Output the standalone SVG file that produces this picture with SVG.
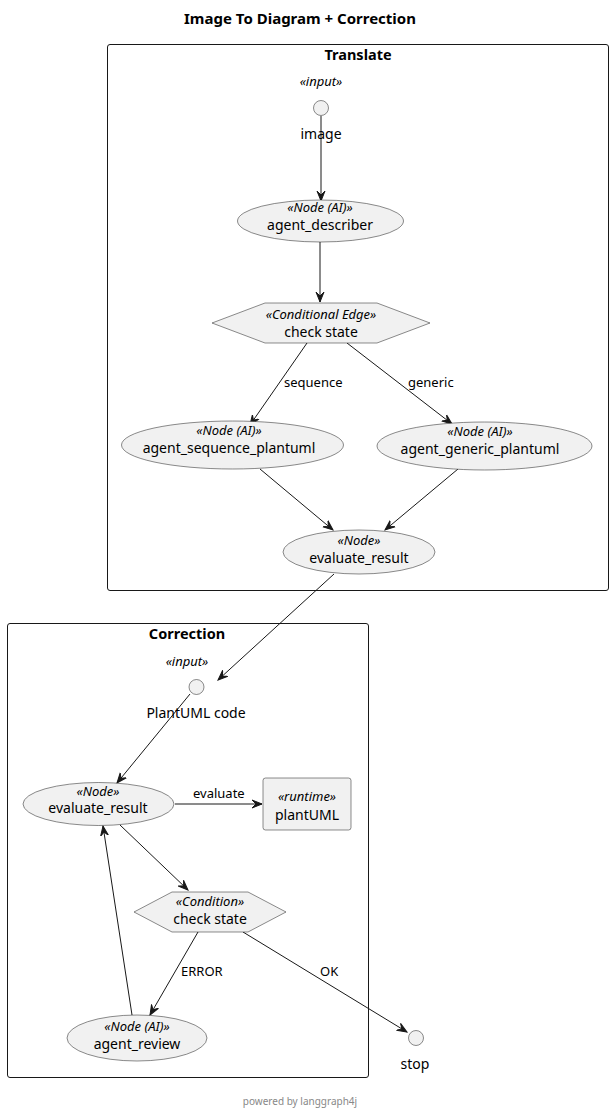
<svg xmlns="http://www.w3.org/2000/svg" width="613" height="1113" viewBox="0 0 613 1113">
<style>
text{font-family:"Noto Sans","DejaVu Sans",sans-serif;fill:#000}
.t{font-size:14px;text-anchor:middle}
.s{font-size:13px;font-style:italic;text-anchor:middle}
.b{font-size:14.5px;font-weight:bold;text-anchor:middle}
.l{font-size:13px}
.n{fill:#F1F1F1;stroke:#181818;stroke-width:0.5}
.c{fill:none;stroke:#181818;stroke-width:1}
.e{fill:none;stroke:#181818;stroke-width:1;marker-end:url(#a)}
</style>
<defs>
<marker id="a" markerWidth="12" markerHeight="10" refX="10" refY="5" orient="auto" markerUnits="userSpaceOnUse" viewBox="0 0 12 10">
<path d="M0,1 L10,5 L0,9 L4,5 Z" fill="#181818" stroke="#181818" stroke-width="1"/>
</marker>
</defs>
<rect width="613" height="1113" fill="#fff"/>
<text class="b" x="300" y="24" style="font-size:15px">Image To Diagram + Correction</text>

<g id="cluster-translate">
<rect class="c" x="107.5" y="44.5" width="501" height="546" rx="2.5"/>
<text class="b" x="358" y="60">Translate</text>
</g>
<g id="cluster-correction">
<rect class="c" x="7.5" y="623.5" width="361" height="454" rx="2.5"/>
<text class="b" x="187" y="639">Correction</text>
</g>

<g id="connectors">
<line class="e" x1="321" y1="116" x2="321" y2="201"/>
<line class="e" x1="320" y1="242" x2="320" y2="302"/>
<line class="e" x1="307" y1="343" x2="250" y2="425"/>
<text class="l" x="284" y="387">sequence</text>
<line class="e" x1="347" y1="343" x2="452" y2="424"/>
<text class="l" x="408" y="387">generic</text>
<line class="e" x1="260" y1="469" x2="333" y2="530"/>
<line class="e" x1="458" y1="469" x2="385" y2="530"/>
<line class="e" x1="334" y1="574" x2="218" y2="680"/>
<line class="e" x1="190" y1="694" x2="117" y2="783"/>
<line class="e" x1="175" y1="804" x2="262" y2="804"/>
<text class="l" x="193" y="798">evaluate</text>
<line class="e" x1="120" y1="825" x2="188" y2="890"/>
<line class="e" x1="198" y1="932" x2="150" y2="1015"/>
<text class="l" x="181" y="976">ERROR</text>
<line class="e" x1="243" y1="932" x2="407" y2="1032"/>
<text class="l" x="320" y="976">OK</text>
<line class="e" x1="132" y1="1015" x2="103" y2="826"/>
</g>

<g id="image">
<text class="s" x="321" y="86">«input»</text>
<circle class="n" cx="321" cy="108" r="7.5"/>
<text class="t" x="321" y="139">image</text>
</g>
<g id="agent_describer">
<ellipse class="n" cx="320.5" cy="221" rx="83" ry="21"/>
<text class="s" x="320" y="212">«Node (AI)»</text>
<text class="t" x="320" y="230">agent_describer</text>
</g>
<g id="check_state_translate">
<polygon class="n" points="212,323 265,303 377,303 430,323 377,343 265,343"/>
<text class="s" x="321" y="319">«Conditional Edge»</text>
<text class="t" x="321" y="337">check state</text>
</g>
<g id="agent_sequence_plantuml">
<ellipse class="n" cx="232.5" cy="445" rx="111" ry="24"/>
<text class="s" x="229" y="435">«Node (AI)»</text>
<text class="t" x="229" y="453">agent_sequence_plantuml</text>
</g>
<g id="agent_generic_plantuml">
<ellipse class="n" cx="484.5" cy="446" rx="107.5" ry="24"/>
<text class="s" x="480" y="436">«Node (AI)»</text>
<text class="t" x="480" y="454">agent_generic_plantuml</text>
</g>
<g id="evaluate_result_translate">
<ellipse class="n" cx="359" cy="552" rx="76" ry="22"/>
<text class="s" x="359" y="545">«Node»</text>
<text class="t" x="359" y="563">evaluate_result</text>
</g>
<g id="plantuml_code">
<text class="s" x="187" y="666">«input»</text>
<circle class="n" cx="196.5" cy="687" r="7.5"/>
<text class="t" x="196" y="718">PlantUML code</text>
</g>
<g id="evaluate_result_correction">
<ellipse class="n" cx="98.5" cy="804" rx="75.5" ry="21.5"/>
<text class="s" x="98" y="796">«Node»</text>
<text class="t" x="98" y="813">evaluate_result</text>
</g>
<g id="plantUML">
<rect class="n" x="263" y="778" width="88" height="52" rx="2.5"/>
<text class="s" x="307" y="801">«runtime»</text>
<text class="t" x="307" y="820">plantUML</text>
</g>
<g id="check_state_correction">
<polygon class="n" points="134,912 172,892 248,892 286,912 248,932 172,932"/>
<text class="s" x="210" y="906">«Condition»</text>
<text class="t" x="210" y="924">check state</text>
</g>
<g id="agent_review">
<ellipse class="n" cx="137" cy="1038" rx="70" ry="23"/>
<text class="s" x="137" y="1031">«Node (AI)»</text>
<text class="t" x="137" y="1049">agent_review</text>
</g>
<g id="stop">
<circle class="n" cx="416" cy="1038" r="7.5"/>
<text class="t" x="415" y="1069">stop</text>
</g>
<text x="300" y="1105" style="font-size:10px;fill:#888;text-anchor:middle">powered by langgraph4j</text>
</svg>
